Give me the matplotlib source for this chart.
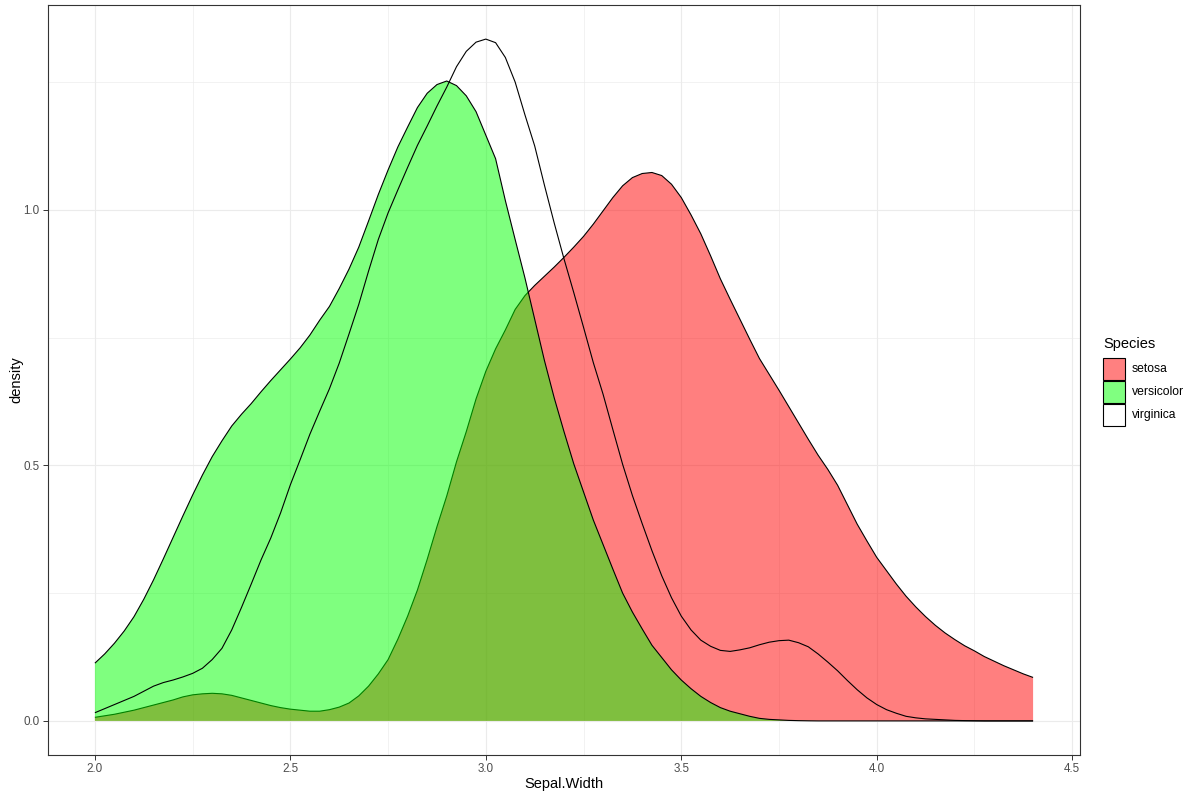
import matplotlib
matplotlib.use("Agg")
import matplotlib.pyplot as plt
from matplotlib.patches import Rectangle
from matplotlib.ticker import MultipleLocator, FormatStrFormatter

plt.rcParams['font.family'] = ['Liberation Sans', 'DejaVu Sans']

# Density estimates (x grid of Sepal.Width)
x_grid = [2.000, 2.025, 2.050, 2.075, 2.100, 2.125, 2.150, 2.175, 2.200, 2.225,
          2.250, 2.275, 2.300, 2.325, 2.350, 2.375, 2.400, 2.425, 2.450, 2.475,
          2.500, 2.525, 2.550, 2.575, 2.600, 2.625, 2.650, 2.675, 2.700, 2.725,
          2.750, 2.775, 2.800, 2.825, 2.850, 2.875, 2.900, 2.925, 2.950, 2.975,
          3.000, 3.025, 3.050, 3.075, 3.100, 3.125, 3.150, 3.175, 3.200, 3.225,
          3.250, 3.275, 3.300, 3.325, 3.350, 3.375, 3.400, 3.425, 3.450, 3.475,
          3.500, 3.525, 3.550, 3.575, 3.600, 3.625, 3.650, 3.675, 3.700, 3.725,
          3.750, 3.775, 3.800, 3.825, 3.850, 3.875, 3.900, 3.925, 3.950, 3.975,
          4.000, 4.025, 4.050, 4.075, 4.100, 4.125, 4.150, 4.175, 4.200, 4.225,
          4.250, 4.275, 4.300, 4.325, 4.350, 4.375, 4.400]

setosa = [0.007, 0.010, 0.013, 0.017, 0.021, 0.026, 0.031, 0.036, 0.041, 0.047,
          0.051, 0.053, 0.054, 0.053, 0.050, 0.045, 0.040, 0.035, 0.030, 0.026,
          0.023, 0.021, 0.019, 0.019, 0.022, 0.027, 0.035, 0.049, 0.068, 0.092,
          0.120, 0.160, 0.205, 0.256, 0.316, 0.380, 0.440, 0.507, 0.566, 0.630,
          0.684, 0.728, 0.765, 0.805, 0.832, 0.852, 0.870, 0.888, 0.907, 0.927,
          0.948, 0.972, 0.998, 1.024, 1.047, 1.063, 1.071, 1.073, 1.067, 1.050,
          1.024, 0.990, 0.953, 0.910, 0.865, 0.825, 0.786, 0.747, 0.709, 0.678,
          0.647, 0.615, 0.583, 0.551, 0.520, 0.492, 0.461, 0.423, 0.385, 0.352,
          0.320, 0.294, 0.268, 0.244, 0.223, 0.204, 0.187, 0.172, 0.159, 0.147,
          0.137, 0.126, 0.117, 0.108, 0.100, 0.092, 0.085]

versicolor = [0.113, 0.131, 0.152, 0.176, 0.204, 0.238, 0.276, 0.317, 0.359, 0.401,
              0.442, 0.481, 0.517, 0.548, 0.577, 0.600, 0.621, 0.644, 0.666, 0.687,
              0.708, 0.730, 0.755, 0.784, 0.811, 0.846, 0.884, 0.927, 0.978, 1.030,
              1.078, 1.123, 1.162, 1.200, 1.228, 1.245, 1.252, 1.243, 1.223, 1.192,
              1.146, 1.100, 1.018, 0.942, 0.867, 0.786, 0.705, 0.632, 0.566, 0.503,
              0.448, 0.393, 0.345, 0.297, 0.250, 0.213, 0.180, 0.148, 0.124, 0.100,
              0.080, 0.063, 0.048, 0.036, 0.026, 0.019, 0.014, 0.009, 0.005, 0.003,
              0.002, 0.001, 0.0005, 0.0002, 0.0, 0.0, 0.0, 0.0, 0.0, 0.0,
              0.0, 0.0, 0.0, 0.0, 0.0, 0.0, 0.0, 0.0, 0.0, 0.0,
              0.0, 0.0, 0.0, 0.0, 0.0, 0.0, 0.0]

virginica = [0.016, 0.024, 0.032, 0.040, 0.048, 0.058, 0.068, 0.075, 0.080, 0.086,
             0.093, 0.103, 0.120, 0.142, 0.178, 0.222, 0.268, 0.315, 0.358, 0.407,
             0.462, 0.511, 0.561, 0.606, 0.650, 0.700, 0.757, 0.815, 0.880, 0.942,
             0.994, 1.039, 1.083, 1.126, 1.164, 1.203, 1.240, 1.280, 1.310, 1.328,
             1.334, 1.327, 1.298, 1.250, 1.186, 1.125, 1.048, 0.974, 0.904, 0.838,
             0.770, 0.701, 0.639, 0.570, 0.502, 0.441, 0.386, 0.333, 0.284, 0.241,
             0.205, 0.178, 0.158, 0.146, 0.138, 0.136, 0.139, 0.143, 0.149, 0.154,
             0.157, 0.158, 0.153, 0.145, 0.131, 0.115, 0.098, 0.079, 0.061, 0.045,
             0.032, 0.022, 0.015, 0.009, 0.006, 0.004, 0.003, 0.002, 0.001, 0.0006,
             0.0003, 0.0, 0.0, 0.0, 0.0, 0.0, 0.0]

species = ['setosa', 'versicolor', 'virginica']
series = [setosa, versicolor, virginica]
fills = ['#FF0000', '#00FF00', None]

W, H = 1200, 798
fig = plt.figure(figsize=(W / 100, H / 100), dpi=100)
ax = fig.add_axes([48 / W, 1 - 755 / H, (1080 - 48) / W, (755 - 5) / H])

z = 3
for name, ys, fc in zip(species, series, fills):
    if fc is not None:
        ax.fill_between(x_grid, 0, ys, facecolor=fc, alpha=0.5, linewidth=0, zorder=z)
    ax.plot(x_grid, ys, color='black', lw=0.8, zorder=z + 0.5,
            solid_joinstyle='round', solid_capstyle='butt')
    z += 1

ax.margins(x=0.05, y=0.05)

ax.xaxis.set_major_locator(MultipleLocator(0.5))
ax.xaxis.set_minor_locator(MultipleLocator(0.25))
ax.yaxis.set_major_locator(MultipleLocator(0.5))
ax.yaxis.set_minor_locator(MultipleLocator(0.25))
ax.xaxis.set_major_formatter(FormatStrFormatter('%.1f'))
ax.yaxis.set_major_formatter(FormatStrFormatter('%.1f'))

ax.grid(which='major', color='#EBEBEB', lw=0.8, zorder=0)
ax.grid(which='minor', color='#EBEBEB', lw=0.45, zorder=0)
ax.set_axisbelow(True)

ax.tick_params(which='major', length=3.5, width=0.7, color='#333333',
               labelsize=8.4, labelcolor='#4D4D4D', pad=2.5)
ax.tick_params(which='minor', length=0)
for s in ax.spines.values():
    s.set_color('#333333')
    s.set_linewidth(0.8)
    s.set_zorder(20)

ax.set_xlabel('Sepal.Width', fontsize=10.5, color='black', labelpad=1.5)
ax.set_ylabel('density', fontsize=10.5, color='black', labelpad=0)

# Legend (manual, ggplot style)
fig.text(1103 / W, 1 - 344 / H, 'Species', fontsize=10.5, va='center', ha='left')
key_fc = ['#FF8080', '#80FF80', 'white']
key_top = [358, 381, 404]
for name, fc, kt in zip(species, key_fc, key_top):
    fig.add_artist(Rectangle((1103 / W, 1 - (kt + 22) / H), 21.5 / W, 22 / H,
                             transform=fig.transFigure, facecolor=fc,
                             edgecolor='black', lw=0.8))
    fig.text(1131.5 / W, 1 - (kt + 11) / H, name, fontsize=8.7, va='center', ha='left')

fig.savefig('out.png', dpi=100)
